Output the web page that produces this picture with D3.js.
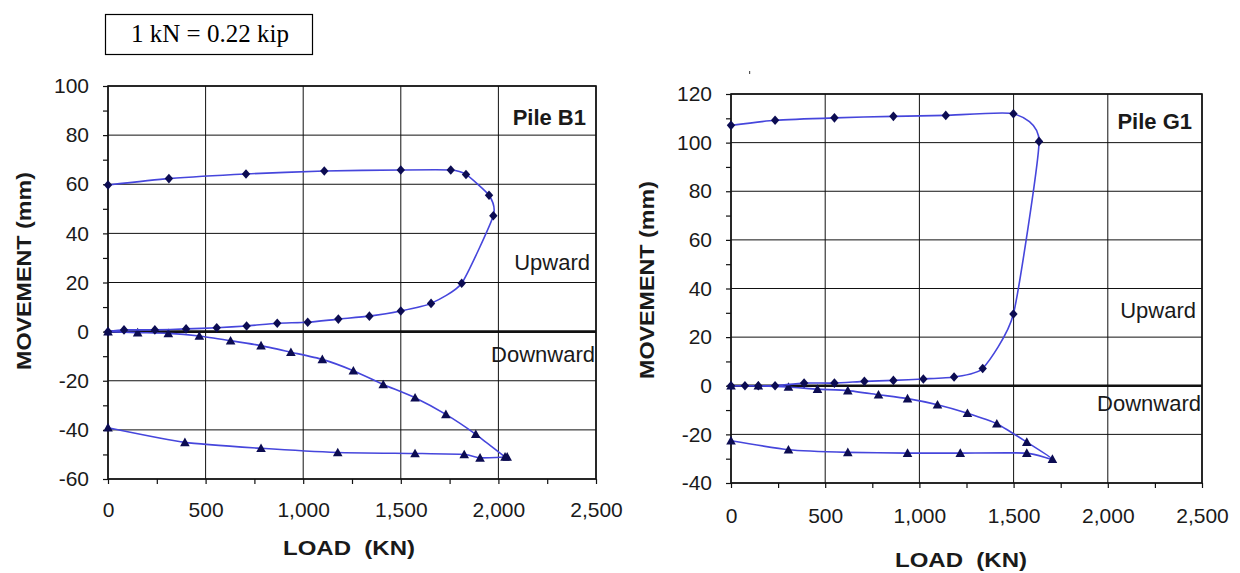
<!DOCTYPE html>
<html>
<head>
<meta charset="utf-8">
<script src="https://cdn.jsdelivr.net/npm/d3@7"></script>
<style>
  body { margin: 0; background: #fff; }
  svg text { font-family: Arial, "Liberation Sans", sans-serif; fill: #1a1a1a; }
</style>
</head>
<body>
<div id="chart"></div>
<script>
// Pile B1 - upward test (load kN, movement mm)
const b1UpLoad = [0, 82, 240, 400, 557, 710, 867, 1023, 1180, 1339, 1500, 1655, 1812, 1974, 1952, 1834, 1756, 1500, 1108, 707, 312, 0];
const b1UpMove = [0, 0.7, 0.7, 1.1, 1.6, 2.3, 3.4, 3.8, 5.1, 6.3, 8.4, 11.5, 19.7, 47.2, 55.5, 64, 65.8, 65.8, 65.4, 64.2, 62.3, 59.7];
// Pile B1 - downward test
const b1DownLoad = [0, 152, 309, 468, 628, 784, 937, 1098, 1257, 1410, 1573, 1731, 1884, 2034, 2045, 1906, 1825, 1573, 1177, 784, 394, 0];
const b1DownMove = [0, -0.4, -0.7, -1.8, -3.7, -5.7, -8.4, -11.3, -15.9, -21.5, -26.9, -33.7, -41.8, -51, -51, -51.4, -50, -49.6, -49.2, -47.5, -45.1, -39.1];

// Pile G1 - upward test
const g1UpLoad = [0, 74, 145, 234, 388, 549, 708, 862, 1021, 1184, 1336, 1499, 1635, 1499, 1140, 862, 549, 234, 0];
const g1UpMove = [0, 0, 0, 0, 1.1, 1.1, 1.8, 2.2, 2.8, 3.6, 7.1, 29.5, 100.5, 111.9, 111.2, 110.8, 110.2, 109.2, 107.1];
// Pile G1 - downward test
const g1DownLoad = [0, 145, 305, 459, 620, 783, 937, 1096, 1255, 1411, 1570, 1706, 1570, 1217, 937, 620, 305, 0];
const g1DownMove = [0, 0, -0.5, -1.4, -2, -3.7, -5.3, -7.8, -11.3, -15.6, -23.2, -30.2, -27.7, -27.7, -27.7, -27.4, -26.3, -22.6];

const xTicks = [0, 500, 1000, 1500, 2000, 2500];
const b1YTicks = [-60, -40, -20, 0, 20, 40, 60, 80, 100];
const g1YTicks = [-40, -20, 0, 20, 40, 60, 80, 100, 120];

const lineColor = '#4646dc';
const markColor = '#0c0c52';

const svg = d3.select('#chart').append('svg')
  .attr('width', 1240)
  .attr('height', 573);

// conversion note box
svg.append('rect')
  .attr('x', 105.5).attr('y', 14.5).attr('width', 207).attr('height', 40)
  .attr('fill', '#fff').attr('stroke', '#000').attr('stroke-width', 1.2);
svg.append('text')
  .attr('x', 210).attr('y', 42)
  .attr('text-anchor', 'middle')
  .style('font-family', '"Liberation Serif", "Times New Roman", serif')
  .style('font-size', '25px')
  .style('fill', '#000')
  .text('1 kN = 0.22 kip');

const diamond = 'M0,-4.8L4.2,0L0,4.8L-4.2,0Z';
const triangle = 'M0,-4.8L4.8,3.8L-4.8,3.8Z';

function drawChart(cfg) {
  const x = d3.scaleLinear().domain([0, 2500]).range([cfg.left, cfg.right]);
  const y = d3.scaleLinear().domain(cfg.yDomain).range([cfg.bottom, cfg.top]);
  const g = svg.append('g');

  // grid
  g.selectAll('.vgrid').data(xTicks).join('line')
    .attr('x1', d => x(d)).attr('x2', d => x(d))
    .attr('y1', cfg.top).attr('y2', cfg.bottom)
    .attr('stroke', '#111').attr('stroke-width', 1);
  g.selectAll('.hgrid').data(cfg.yTicks).join('line')
    .attr('x1', cfg.left).attr('x2', cfg.right)
    .attr('y1', d => y(d)).attr('y2', d => y(d))
    .attr('stroke', '#111').attr('stroke-width', d => d === 0 ? 2.6 : 1);
  g.append('rect')
    .attr('x', cfg.left).attr('y', cfg.top)
    .attr('width', cfg.right - cfg.left).attr('height', cfg.bottom - cfg.top)
    .attr('fill', 'none').attr('stroke', '#111').attr('stroke-width', 1.6);

  // axes (major + minor ticks, outward)
  const yMinor = d3.range(cfg.yDomain[0], cfg.yDomain[1] + 1, 10);
  const xMinor = d3.range(0, 2501, 250);
  g.append('g')
    .attr('transform', `translate(${cfg.left},0)`)
    .call(d3.axisLeft(y).tickValues(yMinor).tickSize(5).tickFormat(''))
    .call(a => a.select('.domain').remove())
    .call(a => a.selectAll('line').attr('stroke', '#111').attr('stroke-width', 1.2));
  g.append('g')
    .attr('transform', `translate(0,${cfg.bottom})`)
    .call(d3.axisBottom(x).tickValues(xMinor).tickSize(5).tickFormat(''))
    .call(a => a.select('.domain').remove())
    .call(a => a.selectAll('line').attr('stroke', '#111').attr('stroke-width', 1.2));

  // tick labels
  g.append('g')
    .attr('transform', `translate(${cfg.left},0)`)
    .call(d3.axisLeft(y).tickValues(cfg.yTicks).tickSize(0).tickPadding(19).tickFormat(d => String(d)))
    .call(a => a.select('.domain').remove())
    .call(a => a.selectAll('text').style('font-size', '21px').style('font-family', 'Arial, "Liberation Sans", sans-serif').attr('fill', '#1a1a1a'));
  g.append('g')
    .attr('transform', `translate(0,${cfg.bottom})`)
    .call(d3.axisBottom(x).tickValues(xTicks).tickSize(0).tickPadding(cfg.xPad).tickFormat(d3.format(',')))
    .call(a => a.select('.domain').remove())
    .call(a => a.selectAll('text').style('font-size', '21px').style('font-family', 'Arial, "Liberation Sans", sans-serif').attr('fill', '#1a1a1a'));

  // axis titles
  g.append('text')
    .attr('transform', `translate(${cfg.yTitleX},${cfg.yTitleY}) rotate(-90)`)
    .attr('text-anchor', 'middle')
    .attr('textLength', 198).attr('lengthAdjust', 'spacingAndGlyphs')
    .style('font-size', '21px').style('font-weight', 'bold')
    .text('MOVEMENT (mm)');
  g.append('text')
    .attr('x', cfg.xTitleX).attr('y', cfg.xTitleY)
    .attr('text-anchor', 'middle')
    .attr('textLength', 132).attr('lengthAdjust', 'spacingAndGlyphs')
    .style('font-size', '21px').style('font-weight', 'bold')
    .style('white-space', 'pre')
    .text('LOAD  (KN)');

  // annotations
  g.append('text')
    .attr('x', cfg.right - 10).attr('y', y(cfg.titleAt))
    .attr('text-anchor', 'end')
    .style('font-size', '22px').style('font-weight', 'bold')
    .text(cfg.title);
  g.append('text')
    .attr('x', cfg.right - 6).attr('y', y(cfg.upAt))
    .attr('text-anchor', 'end')
    .style('font-size', '22px')
    .text('Upward');
  g.append('text')
    .attr('x', cfg.right - 1).attr('y', y(cfg.downAt))
    .attr('text-anchor', 'end')
    .style('font-size', '22px')
    .text('Downward');

  const line = d3.line()
    .x(d => x(d[0])).y(d => y(d[1]))
    .curve(d3.curveCardinal.tension(0.45));

  cfg.series.forEach(s => {
    const pts = d3.zip(s.load, s.move);
    g.append('path')
      .datum(pts)
      .attr('d', line)
      .attr('fill', 'none')
      .attr('stroke', lineColor)
      .attr('stroke-width', 1.6);
    g.append('g').selectAll('path').data(pts).join('path')
      .attr('transform', d => `translate(${x(d[0])},${y(d[1])})`)
      .attr('d', s.mark)
      .attr('fill', markColor);
  });
}

drawChart({
  left: 108, right: 596, top: 86, bottom: 479,
  yDomain: [-60, 100], yTicks: b1YTicks, xPad: 23,
  yTitleX: 31, yTitleY: 271, xTitleX: 349, xTitleY: 555,
  title: 'Pile B1', titleAt: 84.3, upAt: 25, downAt: -12.5,
  series: [
    { load: b1DownLoad, move: b1DownMove, mark: triangle },
    { load: b1UpLoad, move: b1UpMove, mark: diamond }
  ]
});

drawChart({
  left: 731, right: 1202, top: 94, bottom: 483,
  yDomain: [-40, 120], yTicks: g1YTicks, xPad: 25,
  yTitleX: 654, yTitleY: 280, xTitleX: 961, xTitleY: 567,
  title: 'Pile G1', titleAt: 105.8, upAt: 28, downAt: -10.5,
  series: [
    { load: g1DownLoad, move: g1DownMove, mark: triangle },
    { load: g1UpLoad, move: g1UpMove, mark: diamond }
  ]
});

// stray speck above the right chart
svg.append('rect').attr('x', 749).attr('y', 71).attr('width', 1.2).attr('height', 3).attr('fill', '#555');
</script>
</body>
</html>
